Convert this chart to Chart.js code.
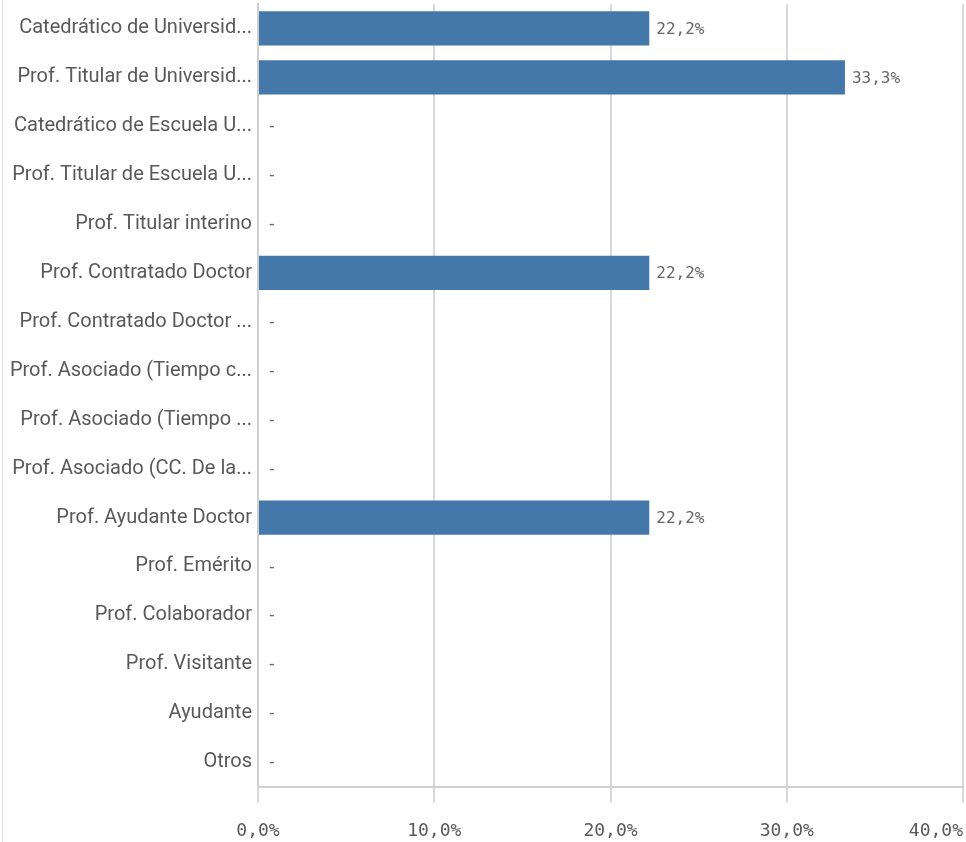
<!DOCTYPE html>
<html><head><meta charset="utf-8">
<script src="https://cdn.jsdelivr.net/npm/chart.js@4"></script>
<style>
html,body{margin:0;padding:0;background:#fff;overflow:hidden}
#wrap{position:relative;width:966px;height:842px}
#edge{position:absolute;left:2px;top:0;width:1px;height:842px;background:#e3e3e3}
</style></head><body>
<div id="wrap"><canvas id="c" width="966" height="842"></canvas><div id="edge"></div></div>
<script>
const categories = [
  'Catedrático de Universid...',
  'Prof. Titular de Universid...',
  'Catedrático de Escuela U...',
  'Prof. Titular de Escuela U...',
  'Prof. Titular interino',
  'Prof. Contratado Doctor',
  'Prof. Contratado Doctor ...',
  'Prof. Asociado (Tiempo c...',
  'Prof. Asociado (Tiempo ...',
  'Prof. Asociado (CC. De la...',
  'Prof. Ayudante Doctor',
  'Prof. Emérito',
  'Prof. Colaborador',
  'Prof. Visitante',
  'Ayudante',
  'Otros'
];
const percentValues = [22.2, 33.3, 0, 0, 0, 22.2, 0, 0, 0, 0, 22.2, 0, 0, 0, 0, 0];
const xTickValues = [0, 10, 20, 30, 40];
const xTickLabels = ['0,0%', '10,0%', '20,0%', '30,0%', '40,0%'];

const fmt = v => v === 0 ? '-' : v.toFixed(1).replace('.', ',') + '%';

const valueLabels = {
  id: 'valueLabels',
  afterDatasetsDraw(chart) {
    const ctx = chart.ctx;
    const meta = chart.getDatasetMeta(0);
    ctx.save();
    ctx.font = '16px "DejaVu Sans Mono"';
    ctx.fillStyle = '#666666';
    ctx.textBaseline = 'middle';
    ctx.textAlign = 'left';
    meta.data.forEach((bar, i) => {
      const v = percentValues[i];
      ctx.fillText(fmt(v), bar.x + (v === 0 ? 9 : 7), bar.y + 1);
    });
    ctx.restore();
  }
};

new Chart(document.getElementById('c'), {
  type: 'bar',
  data: {
    labels: categories,
    datasets: [{
      data: percentValues,
      backgroundColor: '#4477aa',
      borderWidth: 0,
      barPercentage: 0.7,
      categoryPercentage: 1.0
    }]
  },
  options: {
    indexAxis: 'y',
    responsive: false,
    animation: false,
    layout: { padding: { left: 0, right: 3, top: 4, bottom: 0 } },
    plugins: { legend: { display: false }, tooltip: { enabled: false } },
    scales: {
      x: {
        type: 'linear',
        min: 0,
        max: 40,
        afterBuildTicks(scale) { scale.ticks = xTickValues.map(v => ({ value: v })); },
        afterFit(scale) { scale.paddingRight = 0; scale.paddingLeft = 0; scale.height = 55.5; },
        ticks: {
          font: { family: '"DejaVu Sans Mono"', size: 18 },
          color: '#595959',
          padding: 18,
          maxRotation: 0,
          callback: (v, i) => {
            const t = xTickLabels[xTickValues.indexOf(v)];
            return i === xTickValues.length - 1 ? t + '\u00a0\u00a0\u00a0\u00a0\u00a0' : t;
          }
        },
        grid: { color: '#d9d9d9', lineWidth: 2, tickLength: 16, drawTicks: true },
        border: { display: true, color: '#d0d0d0', width: 2 }
      },
      y: {
        afterFit(scale) { scale.width = 258; scale.paddingTop = 0; scale.paddingBottom = 0; },
        ticks: {
          font: { family: 'Roboto', size: 20 },
          color: '#595959',
          padding: 6,
          autoSkip: false
        },
        grid: { display: false, drawTicks: false },
        border: { display: true, color: '#d0d0d0', width: 2 }
      }
    }
  },
  plugins: [valueLabels]
});
</script>
</body></html>
